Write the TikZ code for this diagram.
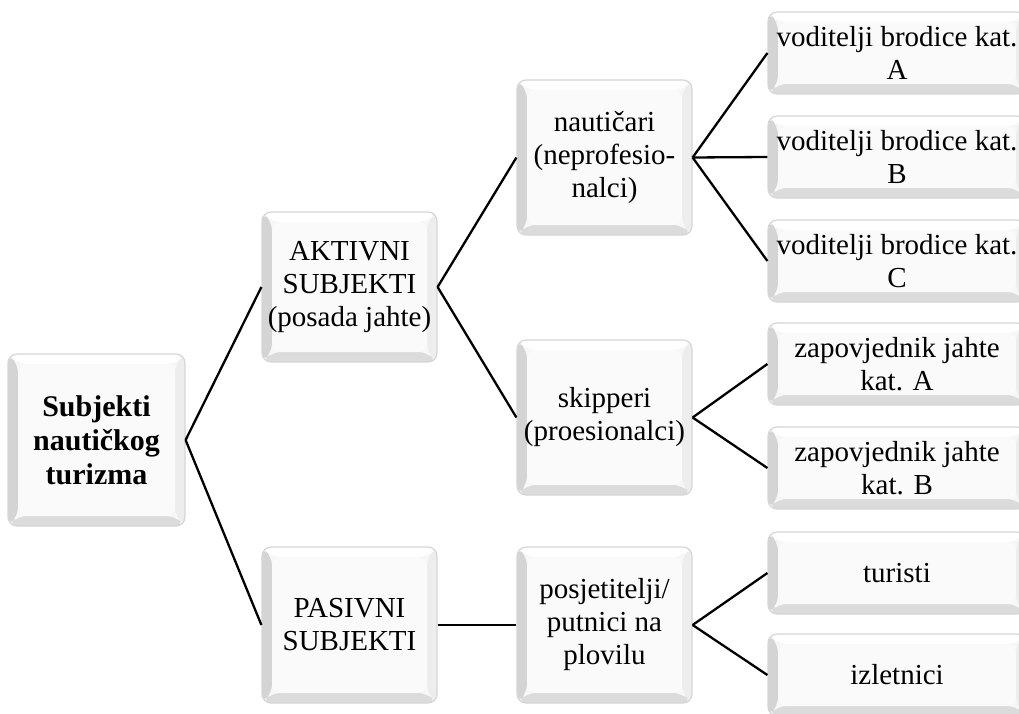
\documentclass[tikz,border=0pt]{standalone}
\usepackage{fontspec}
\setmainfont{Liberation Serif}
\begin{document}
\begin{tikzpicture}[x=1pt,y=-1pt,
  bev/.style={
    rounded corners=9pt, draw=black!16, line width=1.2pt, fill=black!3,
    inner sep=0pt, align=center, font=\fontsize{29}{33}\selectfont,
    path picture={
      \fill[black!17] (path picture bounding box.north west) -- (path picture bounding box.south west)
        -- ([xshift=10pt,yshift=10pt]path picture bounding box.south west)
        -- ([xshift=10pt,yshift=-10pt]path picture bounding box.north west) -- cycle;
      \fill[black!14] (path picture bounding box.south west) -- (path picture bounding box.south east)
        -- ([xshift=-10pt,yshift=10pt]path picture bounding box.south east)
        -- ([xshift=10pt,yshift=10pt]path picture bounding box.south west) -- cycle;
      \fill[black!7] (path picture bounding box.south east) -- (path picture bounding box.north east)
        -- ([xshift=-10pt,yshift=-10pt]path picture bounding box.north east)
        -- ([xshift=-10pt,yshift=10pt]path picture bounding box.south east) -- cycle;
      \fill[white] (path picture bounding box.north east) -- (path picture bounding box.north west)
        -- ([xshift=10pt,yshift=-10pt]path picture bounding box.north west)
        -- ([xshift=-10pt,yshift=-10pt]path picture bounding box.north east) -- cycle;
      \fill[black!2] ([xshift=10pt,yshift=-10pt]path picture bounding box.north west)
        rectangle ([xshift=-10pt,yshift=10pt]path picture bounding box.south east);
    }},
  mid/.style={bev, minimum width=175pt},
  leaf/.style={bev, minimum width=258pt, minimum height=82pt},
  conn/.style={line width=2.3pt, black}]
\clip (0,0) rectangle (1019,714);

\node[bev, minimum width=177pt, minimum height=172pt, font=\fontsize{30}{34}\selectfont\bfseries] (root) at (96.5,440) {Subjekti\\nautičkog\\turizma};

\node[mid, minimum height=150pt] (akt) at (349.5,287) {AKTIVNI\\SUBJEKTI\\(posada jahte)};
\node[mid, minimum height=156pt] (pas) at (349.5,625) {PASIVNI\\SUBJEKTI};

\node[mid, minimum height=155pt] (nau) at (604.5,157.5) {nautičari\\(neprofesio-\\nalci)};
\node[mid, minimum height=155pt] (ski) at (604.5,417.5) {skipperi\\(proesionalci)};
\node[mid, minimum height=156pt] (pos) at (604.5,625) {posjetitelji/\\putnici na\\plovilu};

\node[leaf] (va) at (897,53) {voditelji brodice kat.\\A};
\node[leaf] (vb) at (897,157) {voditelji brodice kat.\\B};
\node[leaf] (vc) at (897,261) {voditelji brodice kat.\\C};
\node[leaf] (za) at (897,364) {zapovjednik jahte\\kat. A};
\node[leaf] (zb) at (897,468) {zapovjednik jahte\\kat. B};
\node[leaf] (tu) at (897,573) {turisti};
\node[leaf] (iz) at (897,675) {izletnici};

\draw[conn] (root.east) -- (akt.west);
\draw[conn] (root.east) -- (pas.west);
\draw[conn] (akt.east) -- (nau.west);
\draw[conn] (akt.east) -- (ski.west);
\draw[conn] (pas.east) -- (pos.west);
\draw[conn] (nau.east) -- (va.west);
\draw[conn] (nau.east) -- (vb.west);
\draw[conn] (nau.east) -- (vc.west);
\draw[conn] (ski.east) -- (za.west);
\draw[conn] (ski.east) -- (zb.west);
\draw[conn] (pos.east) -- (tu.west);
\draw[conn] (pos.east) -- (iz.west);
\end{tikzpicture}
\end{document}
